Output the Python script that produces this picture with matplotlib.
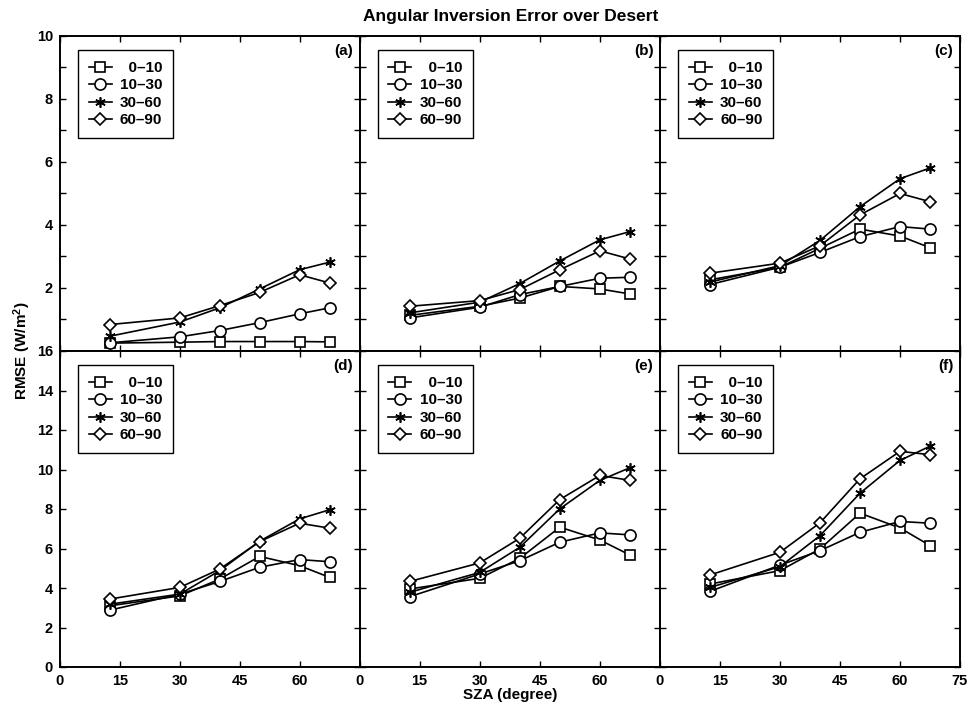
import matplotlib
matplotlib.use("Agg")
import matplotlib.pyplot as plt
from matplotlib.ticker import MultipleLocator, FuncFormatter

plt.rcParams['font.family'] = ['Liberation Sans', 'DejaVu Sans']
plt.rcParams['font.weight'] = 'bold'
plt.rcParams['mathtext.fontset'] = 'custom'
plt.rcParams['mathtext.rm'] = 'Liberation Sans:bold'
plt.rcParams['mathtext.bf'] = 'Liberation Sans:bold'
plt.rcParams['mathtext.default'] = 'bf'

sza = [12.5, 30, 40, 50, 60, 67.5]
series_labels = ['\u20070\u201310', '10\u201330', '30\u201360', '60\u201390']
panel_labels = ['(a)', '(b)', '(c)', '(d)', '(e)', '(f)']

a_0_10 = [0.25, 0.28, 0.30, 0.30, 0.30, 0.29]
a_10_30 = [0.26, 0.45, 0.65, 0.90, 1.18, 1.37]
a_30_60 = [0.47, 0.92, 1.37, 1.97, 2.58, 2.82]
a_60_90 = [0.84, 1.05, 1.44, 1.86, 2.42, 2.16]

b_0_10 = [1.13, 1.42, 1.68, 2.05, 1.97, 1.81]
b_10_30 = [1.05, 1.39, 1.79, 2.05, 2.31, 2.34]
b_30_60 = [1.21, 1.55, 2.14, 2.86, 3.53, 3.79]
b_60_90 = [1.42, 1.60, 1.95, 2.58, 3.18, 2.92]

c_0_10 = [2.26, 2.66, 3.26, 3.87, 3.65, 3.28]
c_10_30 = [2.11, 2.66, 3.13, 3.63, 3.95, 3.87]
c_30_60 = [2.19, 2.71, 3.51, 4.58, 5.47, 5.81]
c_60_90 = [2.47, 2.79, 3.34, 4.32, 5.00, 4.74]

d_0_10 = [3.10, 3.60, 4.45, 5.60, 5.13, 4.54]
d_10_30 = [2.88, 3.69, 4.33, 5.05, 5.44, 5.33]
d_30_60 = [3.18, 3.69, 4.88, 6.37, 7.50, 7.96]
d_60_90 = [3.44, 4.03, 4.96, 6.35, 7.28, 7.03]

e_0_10 = [3.95, 4.49, 5.50, 7.08, 6.43, 5.67]
e_10_30 = [3.56, 4.71, 5.38, 6.32, 6.79, 6.69]
e_30_60 = [3.78, 4.79, 6.06, 8.01, 9.45, 10.09]
e_60_90 = [4.33, 5.27, 6.52, 8.48, 9.70, 9.45]

f_0_10 = [4.20, 4.88, 5.98, 7.79, 7.04, 6.15]
f_10_30 = [3.83, 5.16, 5.89, 6.82, 7.37, 7.28]
f_30_60 = [4.03, 5.08, 6.65, 8.80, 10.46, 11.18]
f_60_90 = [4.66, 5.81, 7.30, 9.53, 10.92, 10.75]

panels = [
    [a_0_10, a_10_30, a_30_60, a_60_90],
    [b_0_10, b_10_30, b_30_60, b_60_90],
    [c_0_10, c_10_30, c_30_60, c_60_90],
    [d_0_10, d_10_30, d_30_60, d_60_90],
    [e_0_10, e_10_30, e_30_60, e_60_90],
    [f_0_10, f_10_30, f_30_60, f_60_90],
]

markers = ['s', 'o', (6, 2, 0), 'D']
msizes = [6.5, 8, 7.5, 6.5]

fig = plt.figure(figsize=(9.69, 7.13), dpi=100)
W, H = 969.0, 713.0
xs = [60, 359.5, 660, 960]
ys = [36, 351, 667]

for i in range(6):
    r, c = divmod(i, 3)
    left = xs[c] / W
    width = (xs[c + 1] - xs[c]) / W
    bottom = 1 - ys[r + 1] / H
    height = (ys[r + 1] - ys[r]) / H
    ax = fig.add_axes([left, bottom, width, height])
    for k in range(4):
        ax.plot(sza, panels[i][k], color='black', lw=1.2,
                marker=markers[k], markersize=msizes[k],
                markerfacecolor='white' if k != 2 else 'black',
                markeredgecolor='black', markeredgewidth=1.2,
                label=series_labels[k])
    ax.set_xlim(0, 75)
    ymax = 10 if r == 0 else 16
    ax.set_ylim(0, ymax)
    ax.xaxis.set_major_locator(MultipleLocator(15))
    ax.yaxis.set_major_locator(MultipleLocator(2))
    if r == 0:
        ax.yaxis.set_minor_locator(MultipleLocator(1))
    ax.tick_params(which='both', direction='in', top=True, right=True,
                   length=4, width=1, labelsize=10.5, pad=5)
    for s in ax.spines.values():
        s.set_linewidth(1.4)
    if c == 0:
        if r == 0:
            ax.yaxis.set_major_formatter(FuncFormatter(lambda v, p: '' if v == 0 else '%d' % v))
        else:
            ax.yaxis.set_major_formatter(FuncFormatter(lambda v, p: '%d' % v))
    else:
        ax.set_yticklabels([])
    if r == 1:
        if c == 2:
            ax.xaxis.set_major_formatter(FuncFormatter(lambda v, p: '%d' % v))
        else:
            ax.xaxis.set_major_formatter(FuncFormatter(lambda v, p: '' if v == 75 else '%d' % v))
    else:
        ax.set_xticklabels([])
    for lab in ax.get_xticklabels() + ax.get_yticklabels():
        lab.set_fontweight('bold')
    ax.text(0.978, 0.975, panel_labels[i], transform=ax.transAxes,
            ha='right', va='top', fontsize=11, fontweight='bold')
    leg = ax.legend(loc='upper left', bbox_to_anchor=(0.06, 0.955),
                    fancybox=False, framealpha=1, edgecolor='black',
                    prop={'weight': 'bold', 'size': 11},
                    handlelength=1.5, labelspacing=0.23, borderpad=0.7,
                    handletextpad=0.55, borderaxespad=0)
    leg.get_frame().set_linewidth(1.0)

fig.text(0.527, 1 - 16 / H, 'Angular Inversion Error over Desert',
         ha='center', va='center', fontsize=12.5, fontweight='bold')
fig.text(22 / W, 1 - 351 / H, 'RMSE (W/m$^2$)', rotation=90,
         ha='center', va='center', fontsize=11, fontweight='bold')
fig.text(510 / W, 1 - 695 / H, 'SZA (degree)', ha='center', va='center',
         fontsize=11, fontweight='bold')

fig.savefig('out.png', dpi=100)
